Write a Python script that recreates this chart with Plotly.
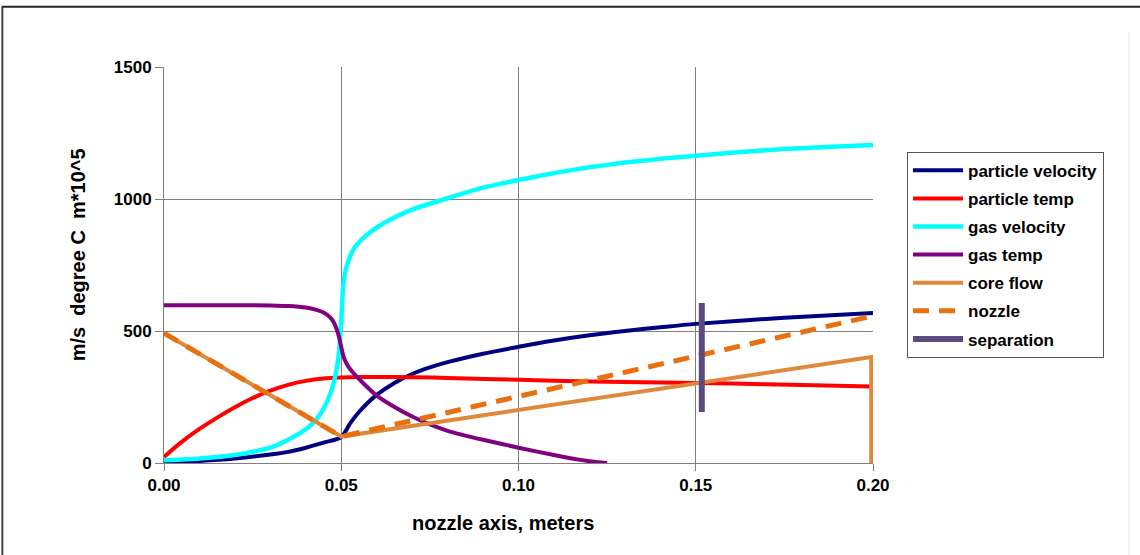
import plotly.graph_objects as go

# ---- data ----
pv_x = [0, 0.01, 0.02, 0.03, 0.035, 0.04, 0.045, 0.05, 0.0525, 0.055, 0.0575, 0.06, 0.065, 0.07, 0.075,
        0.08, 0.09, 0.10, 0.11, 0.12, 0.13, 0.14, 0.15, 0.175, 0.20]
pv_y = [3, 8, 17, 32, 42, 58, 77, 98, 150, 193, 228, 258, 303, 337, 362,
        382, 414, 440, 464, 484, 500, 514, 527, 550, 568]

pt_x = [0, 0.005, 0.01, 0.015, 0.02, 0.025, 0.03, 0.035, 0.04, 0.045, 0.05, 0.055, 0.06, 0.07,
        0.08, 0.10, 0.12, 0.14, 0.16, 0.18, 0.1995]
pt_y = [23, 80, 129, 172, 211, 246, 274, 296, 311, 320, 324, 326, 326, 325,
        322, 315, 309, 305, 301, 295, 290]

gv_x = [0, 0.01, 0.02, 0.03, 0.035, 0.04, 0.043, 0.045, 0.047, 0.048, 0.049, 0.0495, 0.05, 0.0505,
        0.051, 0.052, 0.0535, 0.056, 0.06, 0.065, 0.07, 0.08, 0.09, 0.10, 0.11, 0.12, 0.13, 0.14,
        0.15, 0.16, 0.175, 0.19, 0.20]
gv_y = [10, 17, 30, 58, 88, 128, 165, 205, 265, 310, 380, 440, 540, 660,
        715, 765, 810, 850, 892, 930, 960, 1003, 1043, 1072, 1098, 1120, 1138, 1152,
        1164, 1175, 1189, 1199, 1205]

gt_x = [0, 0.02, 0.03, 0.035, 0.04, 0.043, 0.045, 0.047, 0.048, 0.049, 0.0495, 0.05, 0.0505, 0.051,
        0.052, 0.0535, 0.056, 0.06, 0.065, 0.07, 0.075, 0.08, 0.09, 0.10, 0.11, 0.115, 0.12, 0.125]
gt_y = [598, 598, 597, 595, 589, 580, 570, 550, 530, 495, 470, 440, 410, 390,
        365, 340, 305, 255, 212, 176, 146, 122, 88, 58, 30, 17, 7, 0]

cf_x = [0, 0.05, 0.1995, 0.1995]
cf_y = [492, 100, 401, 0]

nz_x = [0, 0.05, 0.20]
nz_y = [492, 100, 557]

sep_x = [0.1517, 0.1517]
sep_y = [193, 606]

x_ticks = [0, 0.05, 0.10, 0.15, 0.20]
x_labels = ["0.00", "0.05", "0.10", "0.15", "0.20"]
y_ticks = [0, 500, 1000, 1500]
y_labels = ["0", "500", "1000", "1500"]

FONT = "Liberation Sans, Arial, sans-serif"

fig = go.Figure()
series = [
    (pv_x, pv_y, "particle velocity", dict(color="#000080", width=4, shape="spline", smoothing=0.8)),
    (pt_x, pt_y, "particle temp", dict(color="#FF0000", width=4, shape="spline", smoothing=0.8)),
    (gv_x, gv_y, "gas velocity", dict(color="#00FFFF", width=4.5, shape="spline", smoothing=0.6)),
    (gt_x, gt_y, "gas temp", dict(color="#800080", width=4, shape="spline", smoothing=0.6)),
    (cf_x, cf_y, "core flow", dict(color="#E0883A", width=4)),
    (nz_x, nz_y, "nozzle", dict(color="#E8700E", width=5, dash="16px,10px")),
    (sep_x, sep_y, "separation", dict(color="#5B4A7E", width=6)),
]
for i, (xs, ys, nm, ln) in enumerate(series):
    fig.add_trace(go.Scatter(x=xs, y=ys, mode="lines", name=nm, line=ln, legendgroup=f"g{i}"))

fig.update_layout(
    width=1140, height=555,
    margin=dict(l=164, r=267, t=67, b=92),
    paper_bgcolor="white", plot_bgcolor="white",
    font=dict(family=FONT, size=16, color="black"),
    legend=dict(x=1.048, y=0.786, xanchor="left", yanchor="top",
                bordercolor="#555555", borderwidth=1, bgcolor="white",
                font=dict(family=FONT, size=17, color="black", weight="bold"),
                tracegroupgap=3, itemwidth=50),
    showlegend=True,
)
fig.update_xaxes(range=[0, 0.2], tickvals=x_ticks, ticktext=x_labels,
                 showgrid=True, gridcolor="#808080", gridwidth=1,
                 showline=True, linecolor="#808080", linewidth=1,
                 ticks="outside", ticklen=7, tickcolor="#808080",
                 tickfont=dict(family=FONT, size=17, weight="bold"),
                 zeroline=False)
fig.update_yaxes(range=[0, 1500], tickvals=y_ticks, ticktext=y_labels,
                 showgrid=True, gridcolor="#808080", gridwidth=1,
                 showline=True, linecolor="#808080", linewidth=1,
                 ticks="outside", ticklen=8, tickcolor="#808080",
                 tickfont=dict(family=FONT, size=17, weight="bold"),
                 zeroline=False)

# axis titles
fig.add_annotation(text="nozzle axis, meters", xref="paper", yref="paper",
                   x=0.478, y=-0.1515, showarrow=False, xanchor="center", yanchor="middle",
                   font=dict(family=FONT, size=20, weight="bold", color="black"))
fig.add_annotation(text="m/s  degree C  m*10^5", xref="paper", yref="paper",
                   x=-0.121, y=0.525, showarrow=False, textangle=-90,
                   xanchor="center", yanchor="middle",
                   font=dict(family=FONT, size=20, weight="bold", color="black"))

# outer frame
fig.add_shape(type="line", xref="paper", yref="paper", x0=-0.229, x1=1.40, y0=1.152, y1=1.152,
              line=dict(color="#222222", width=2))
fig.add_shape(type="line", xref="paper", yref="paper", x0=-0.228, x1=-0.228, y0=1.152, y1=-0.25,
              line=dict(color="#444444", width=2))
fig.add_shape(type="line", xref="paper", yref="paper", x0=1.361, x1=1.361, y0=1.088, y1=-0.25,
              line=dict(color="#E6E6E6", width=1))

fig.write_html("out.html")
